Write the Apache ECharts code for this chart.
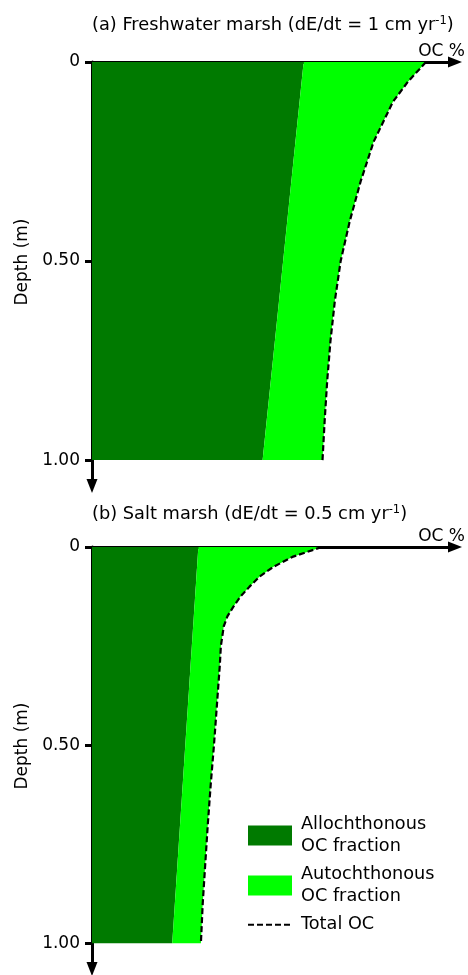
<!DOCTYPE html>
<html>
<head>
<meta charset="utf-8">
<script src="https://cdn.jsdelivr.net/npm/echarts@6/dist/echarts.min.js"></script>
<style>
html,body{margin:0;padding:0;background:#fff;}
#chart{width:468px;height:975px;}
</style>
</head>
<body>
<div id="chart"></div>
<script>
// ---- data (OC % in arbitrary units, depth in m) ----
const depthA = [0, 0.05, 0.1, 0.2, 0.3, 0.4, 0.5, 0.6, 0.7, 0.8, 0.9, 1.0];
const totalA = [9.20, 8.70, 8.29, 7.76, 7.40, 7.10, 6.85, 6.69, 6.57, 6.48, 6.41, 6.35];
const allochDepth = [0, 1];
const allochA = [5.83, 4.70];

const depthB = [0, 0.025, 0.05, 0.075, 0.1, 0.125, 0.15, 0.175, 0.2, 0.25, 0.3, 0.4, 0.5, 0.6, 0.7, 0.8, 0.9, 1.0];
const totalB = [6.33, 5.52, 5.00, 4.61, 4.34, 4.09, 3.90, 3.73, 3.63, 3.55, 3.52, 3.44, 3.36, 3.27, 3.19, 3.12, 3.05, 3.00];
const allochB = [2.93, 2.21];

const depthTicks = [0, 0.5, 1];
const titles = ['(a) Freshwater marsh (dE/dt = 1 cm yr{s|-1})', '(b) Salt marsh (dE/dt = 0.5 cm yr{s|-1})'];
const names = ['Allochthonous\nOC fraction', 'Autochthonous\nOC fraction', 'Total OC'];

const DARK = '#007a00', LIGHT = '#00ff00';
const FONT = 'DejaVu Sans';

function pairs(xs, ds) { return ds.map((d, i) => [xs[i], d]); }

function polySeries(name, idx, pts, color) {
  return {
    type: 'custom', name: name, xAxisIndex: idx, yAxisIndex: idx,
    data: pts, silent: true, z: 1,
    itemStyle: {color: color},
    renderItem: function (params, api) {
      if (params.dataIndex !== 0) return null;
      return {type: 'polygon', shape: {points: pts.map(p => api.coord(p))}, style: {fill: color}};
    }
  };
}

const panels = [
  {depth: depthA, total: totalA, alloch: allochA},
  {depth: depthB, total: totalB, alloch: allochB}
];

const grids = [
  {left: 92, top: 62, width: 363, height: 424},
  {left: 92, top: 547, width: 363, height: 422}
];

const xAxes = [], yAxes = [], series = [];
panels.forEach((p, i) => {
  xAxes.push({
    gridIndex: i, type: 'value', position: 'top', min: 0, max: 10,
    name: 'OC %', nameLocation: 'end', nameGap: 10,
    nameTextStyle: {fontSize: 17, color: '#000', fontFamily: FONT, align: 'right', verticalAlign: 'bottom', padding: [0, 0, 2, 0]},
    axisLine: {show: true, symbol: ['none', 'triangle'], symbolSize: [11, 14], lineStyle: {color: '#000', width: 3}},
    axisTick: {show: false}, axisLabel: {show: false}, splitLine: {show: false}
  });
  yAxes.push({
    gridIndex: i, type: 'value', inverse: true, min: 0, max: 1.065,
    name: 'Depth (m)', nameLocation: 'middle', nameGap: 60,
    nameTextStyle: {fontSize: 17, color: '#000', fontFamily: FONT, padding: [0, 0, 0, 24]},
    axisLine: {show: true, onZero: false, symbol: ['triangle', 'none'], symbolSize: [11, 14], lineStyle: {color: '#000', width: 3}},
    axisTick: {show: true, length: 7, lineStyle: {color: '#000', width: 3}, customValues: depthTicks},
    axisLabel: {show: true, margin: 12, fontSize: 17, color: '#000', fontFamily: FONT, customValues: depthTicks,
      formatter: v => v === 0 ? '0' : v.toFixed(2)},
    splitLine: {show: false}
  });
  const aPts = pairs(p.alloch, allochDepth);
  const tPts = pairs(p.total, p.depth);
  series.push(polySeries(names[0], i, [[0, 0]].concat(aPts, [[0, 1]]), DARK));
  series.push(polySeries(names[1], i, aPts.concat(tPts.slice().reverse()), LIGHT));
  series.push({
    type: 'line', name: names[2], xAxisIndex: i, yAxisIndex: i, data: tPts,
    symbol: 'none', showSymbol: false, z: 3, silent: true,
    itemStyle: {color: '#000', opacity: 0},
    lineStyle: {color: '#000', width: 2.2, type: [6, 3]}
  });
});

const chart = echarts.init(document.getElementById('chart'), null, {renderer: 'canvas'});
chart.setOption({
  animation: false,
  backgroundColor: '#fff',
  title: titles.map((t, i) => ({
    text: t, left: 92, top: i === 0 ? 15 : 504, padding: 0,
    textStyle: {fontSize: 17.8, fontWeight: 'normal', color: '#000', fontFamily: FONT, lineHeight: 21,
      rich: {s: {fontSize: 11.5, fontFamily: FONT, color: '#000', verticalAlign: 'top', lineHeight: 12}}}
  })),
  legend: {
    orient: 'vertical', left: 247, top: 814, padding: 0,
    itemWidth: 44, itemHeight: 20, itemGap: 7, selectedMode: false,
    textStyle: {fontSize: 17.7, lineHeight: 21.5, color: '#000', fontFamily: FONT, padding: [0, 0, 0, 4]},
    data: [{name: names[0], icon: 'rect'}, {name: names[1], icon: 'rect'},
           {name: names[2], itemStyle: {opacity: 0}}]
  },
  grid: grids,
  xAxis: xAxes,
  yAxis: yAxes,
  series: series
});
</script>
</body>
</html>
